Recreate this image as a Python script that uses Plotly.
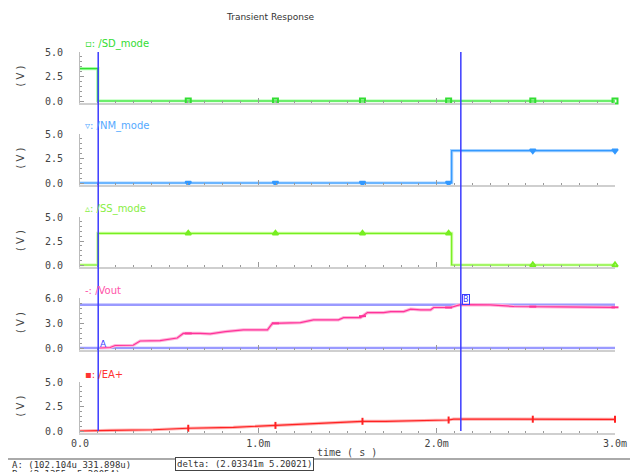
import numpy as np
import plotly.graph_objects as go

OFF = 8                      # page body margin of the browser
W, H = 638 - OFF, 472 - OFF  # figure size that fits the window

# ---------------- data (time in ms, voltage in V) ----------------
sd_t = [0.0, 0.1, 0.1, 3.0]
sd_v = [3.3, 3.3, 0.0, 0.0]
nm_t = [0.0, 2.084, 2.084, 3.0]
nm_v = [0.0, 0.0, 3.3, 3.3]
ss_t = [0.0, 0.1, 0.1, 2.084, 2.084, 3.0]
ss_v = [0.0, 0.0, 3.3, 3.3, 0.0, 0.0]
vout_t = [0.112, 0.169, 0.197, 0.298, 0.337, 0.449, 0.545, 0.579, 0.674, 0.73,
          0.815, 0.916, 1.051, 1.079, 1.236, 1.309, 1.449, 1.478, 1.573, 1.612,
          1.702, 1.742, 1.815, 1.854, 1.91, 1.966, 1.983, 2.079, 2.118, 2.135,
          2.30, 2.433, 2.697, 2.994, 3.0]
vout_v = [0.0, 0.06, 0.30, 0.33, 0.84, 0.88, 1.20, 1.75, 1.75, 1.69,
          1.96, 2.17, 2.17, 2.95, 3.05, 3.37, 3.37, 3.65, 3.65, 4.25,
          4.25, 4.37, 4.37, 4.66, 4.58, 4.58, 4.86, 4.86, 5.12, 5.20,
          5.18, 4.98, 4.94, 4.90, 4.88]
ea_t = [0.0, 0.096, 0.169, 0.41, 0.506, 0.607, 0.86, 1.022, 1.107, 1.348,
        1.46, 1.584, 1.713, 1.837, 1.966, 2.067, 2.095, 3.0]
ea_v = [0.0, 0.0, 0.07, 0.13, 0.20, 0.28, 0.38, 0.51, 0.58, 0.79,
        0.85, 0.99, 0.99, 1.05, 1.09, 1.12, 1.22, 1.19]
marker_t = [0.607, 1.096, 1.584, 2.067, 2.539, 3.0]
cursor_a = (0.102104, 0.000331898)   # ms, V
cursor_b = (2.135514, 5.20054)
x_ticks = [0, 1, 2, 3]
x_ticktext = ["0.0", "1.0m", "2.0m", "3.0m"]


def px(x):
    return (x - OFF) / W


def py(y):
    return 1 - (y - OFF) / H


def step_at(ts, vs, t):
    # value of a step waveform at time t (last defined value)
    val = vs[0]
    for tt, vv in zip(ts, vs):
        if tt <= t:
            val = vv
    return val


panels = [
    # zero_px, top_px, vmax, ticktext
    (101, 52, 5.0, ["0.0", "2.5", "5.0"]),
    (183, 134, 5.0, ["0.0", "2.5", "5.0"]),
    (265, 217, 5.0, ["0.0", "2.5", "5.0"]),
    (348, 298, 6.0, ["0.0", "3.0", "6.0"]),
    (431, 382, 5.0, ["0.0", "2.5", "5.0"]),
]

signals = [
    dict(name="/SD_mode", t=sd_t, v=sd_v, core="#33dd33", halo="#a6ffa6",
         sym="square-open", lab="▫: /SD_mode", lc="#33dd33", step=True, ms=5),
    dict(name="/NM_mode", t=nm_t, v=nm_v, core="#3399ff", halo="#a6d2ff",
         sym="triangle-down", lab="▿: /NM_mode", lc="#55aaff", step=True, ms=5),
    dict(name="/SS_mode", t=ss_t, v=ss_v, core="#77ee22", halo="#d2ffaa",
         sym="triangle-up-open", lab="▵: /SS_mode", lc="#88ee44", step=True, ms=5),
    dict(name="/Vout", t=vout_t, v=vout_v, core="#ff3399", halo="#ffb3d9",
         sym="line-ew", lab="-: /Vout", lc="#ff55aa", step=False, ms=5),
    dict(name="/EA+", t=ea_t, v=ea_v, core="#ff2222", halo="#ffb0b0",
         sym="line-ns", lab="▪: /EA+", lc="#ff3333", step=False, ms=5),
]

fig = go.Figure()
mono = "DejaVu Sans Mono"
sans = "DejaVu Sans"
layout = {}
annotations = []
shapes = []

for i, (pan, sig) in enumerate(zip(panels, signals), start=1):
    zero_px, top_px, vmax, ttxt = pan
    ppv = (zero_px - top_px) / vmax
    bottom_px = zero_px + 1.5
    ymin = -(bottom_px - zero_px) / ppv
    xa = "x" if i == 1 else f"x{i}"
    ya = "y" if i == 1 else f"y{i}"
    fig.add_trace(go.Scatter(x=sig["t"], y=sig["v"], mode="lines",
                             line=dict(color=sig["halo"], width=3.2),
                             xaxis=xa, yaxis=ya, showlegend=False, hoverinfo="skip"))
    fig.add_trace(go.Scatter(x=sig["t"], y=sig["v"], mode="lines",
                             line=dict(color=sig["core"], width=1.2),
                             xaxis=xa, yaxis=ya, showlegend=False, name=sig["name"]))
    if sig["step"]:
        my = [step_at(sig["t"], sig["v"], t) for t in marker_t]
    else:
        my = list(np.interp(marker_t, sig["t"], sig["v"]))
    fig.add_trace(go.Scatter(x=marker_t, y=my, mode="markers",
                             marker=dict(symbol=sig["sym"], size=sig["ms"], color=sig["core"],
                                         line=dict(color=sig["core"], width=2)),
                             cliponaxis=False, xaxis=xa, yaxis=ya, showlegend=False))

    xkey = "xaxis" if i == 1 else f"xaxis{i}"
    ykey = "yaxis" if i == 1 else f"yaxis{i}"
    layout[xkey] = dict(
        domain=[px(80), px(615)], range=[0, 3], anchor=ya, automargin=False,
        showline=True, linecolor="#cfcfcf", linewidth=2,
        ticks="inside", tickmode="array", tickvals=x_ticks, ticktext=x_ticktext,
        ticklen=5, tickcolor="#999999", tickwidth=1,
        minor=dict(tickmode="linear", tick0=0, dtick=0.1, ticks="inside",
                   ticklen=2, tickcolor="#999999"),
        showticklabels=(i == 5), tickfont=dict(family=mono, size=10, color="#444444"),
        showgrid=False, zeroline=False,
    )
    if i > 1:
        layout[xkey]["matches"] = "x"
    layout[ykey] = dict(
        domain=[py(bottom_px), py(top_px)], range=[ymin, vmax], anchor=xa,
        automargin=False,
        showline=True, linecolor="#bbbbbb", linewidth=1,
        ticks="inside", tickmode="array", tickvals=[0, vmax / 2, vmax], ticktext=ttxt,
        ticklen=4, tickcolor="#999999",
        minor=dict(tickmode="linear", tick0=0, dtick=vmax / 10, ticks="inside",
                   ticklen=2, tickcolor="#999999"),
        tickfont=dict(family=mono, size=10, color="#444444"),
        ticklabelstandoff=14, showgrid=False, zeroline=False,
    )
    # y unit label
    annotations.append(dict(text="( V )", xref="paper", yref="paper",
                            x=px(20), y=py((zero_px + top_px) / 2),
                            xanchor="center", yanchor="middle",
                            textangle=-90, showarrow=False,
                            font=dict(family=sans, size=10, color="#444444")))
    # trace label
    annotations.append(dict(text=sig["lab"], xref="paper", yref="paper",
                            x=px(83), y=py(top_px - 8), xanchor="left",
                            yanchor="middle", showarrow=False,
                            font=dict(family=sans, size=10, color=sig["lc"])))

# horizontal cursors in Vout panel
for cy in (cursor_a[1], cursor_b[1]):
    shapes.append(dict(type="line", xref="x4", yref="y4", x0=0, x1=3, y0=cy, y1=cy,
                       line=dict(color="#9a9aff", width=2.5), layer="below"))
# vertical cursors
for cx in (cursor_a[0], cursor_b[0]):
    shapes.append(dict(type="line", xref="x", yref="paper", x0=cx, x1=cx,
                       y0=py(431), y1=py(52),
                       line=dict(color="#3b3bff", width=1.5)))
# separator line at bottom
shapes.append(dict(type="line", xref="paper", yref="paper", x0=0, x1=1,
                   y0=py(459), y1=py(459), line=dict(color="#aaaaaa", width=2)))

annotations += [
    dict(text="A", xref="x4", yref="y4", x=cursor_a[0], y=cursor_a[1],
         xanchor="left", yanchor="bottom", yshift=-3, showarrow=False,
         font=dict(family=sans, size=9, color="#3b3bff")),
    dict(text="B", xref="x4", yref="y4", x=cursor_b[0], y=cursor_b[1],
         xanchor="left", yanchor="bottom", xshift=1, showarrow=False,
         bordercolor="#3b3bff", borderwidth=1, borderpad=0,
         font=dict(family=sans, size=8, color="#3b3bff")),
    dict(text="Transient Response", xref="paper", yref="paper", x=px(270), y=py(17),
         xanchor="center", yanchor="middle",
         showarrow=False, font=dict(family=sans, size=9, color="#333333")),
    dict(text="time ( s )", xref="paper", yref="paper", x=px(347), y=py(452),
         xanchor="center", yanchor="middle",
         showarrow=False, font=dict(family=mono, size=10, color="#444444")),
    dict(text=f"A: ({cursor_a[0] * 1000:.3f}u {cursor_a[1] * 1e6:.3f}u)",
         xref="paper", yref="paper", x=px(10), y=py(465), xanchor="left",
         yanchor="middle",
         showarrow=False, font=dict(family=mono, size=9, color="#333333")),
    dict(text=f"delta: ({cursor_b[0] - cursor_a[0]:.5f}m {cursor_b[1] - cursor_a[1]:.5f})",
         xref="paper", yref="paper", x=px(244), y=py(464),
         xanchor="center", yanchor="middle",
         showarrow=False, bordercolor="#444444", borderwidth=1, borderpad=1,
         bgcolor="white", font=dict(family=mono, size=9, color="#333333")),
    dict(text=f"B: ({cursor_b[0]:.4f}m {cursor_b[1]:.5f})",
         xref="paper", yref="paper", x=px(10), y=py(474), xanchor="left",
         yanchor="middle",
         showarrow=False, font=dict(family=mono, size=9, color="#333333")),
]

fig.update_layout(width=W, height=H, margin=dict(l=0, r=0, t=0, b=0),
                  paper_bgcolor="white", plot_bgcolor="white",
                  showlegend=False, annotations=annotations, shapes=shapes, **layout)
fig.write_html("out.html")
